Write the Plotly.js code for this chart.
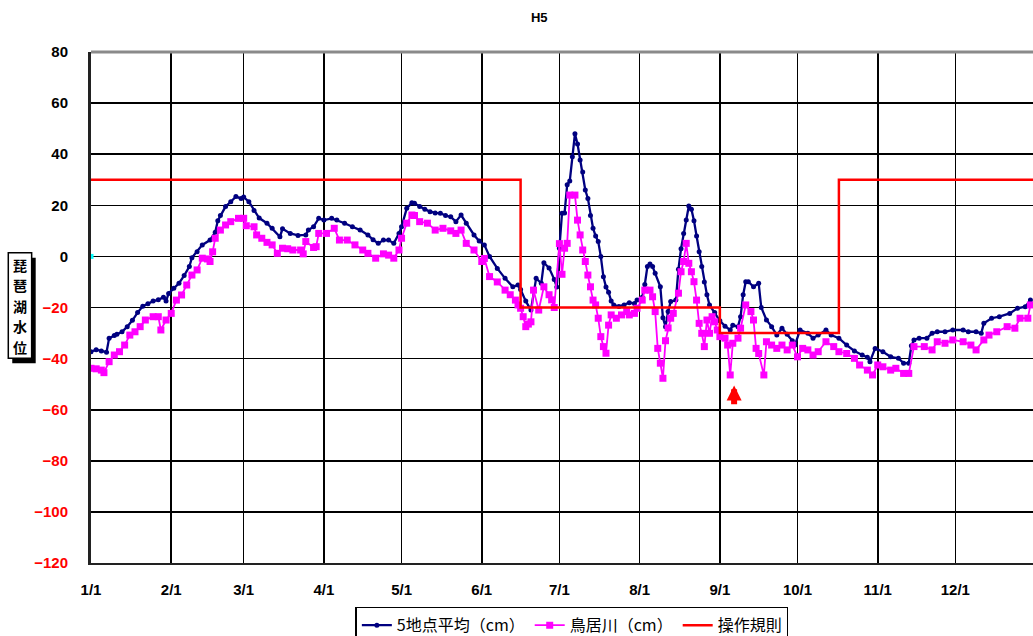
<!DOCTYPE html>
<html>
<head>
<meta charset="utf-8">
<script src="https://cdn.plot.ly/plotly-3.0.1.min.js"></script>
<style>html,body{margin:0;padding:0;background:#fff;}#chart{width:1033px;height:636px;}</style>
</head>
<body>
<div id="chart"></div>
<script>
// ---- Data (day offsets from 1993-01-01, values in cm) ----
const avgDays = [0,2,4,6,7,9,10,12,14,16,18,20,22,24,26,28,29,30,32,34,36,38,39,41,43,46,48,49,50,52,54,56,58,59,61,63,65,68,70,73,74,77,80,83,84,86,88,90,93,95,98,101,104,107,109,111,113,115,117,119,120,122,124,125,127,129,131,133,135,137,139,141,143,145,148,150,152,154,157,160,163,165,166,168,170,172,174,175,177,179,180,181,182,183,184,185,186,187,188,189,190,191,192,193,194,195,196,197,198,199,200,201,202,204,206,208,210,211,213,214,215,216,217,218,220,221,222,223,224,226,227,228,229,230,231,232,233,234,235,236,237,238,239,241,243,245,247,248,250,251,252,253,254,256,258,259,261,263,265,267,269,271,272,274,277,279,281,284,286,289,292,295,298,300,301,303,306,309,312,314,316,317,318,320,323,325,327,330,333,337,339,342,344,345,348,351,355,358,361,363];
const avgValues = [-37.3,-36.5,-37,-37.5,-32,-31,-30.5,-29.5,-27.5,-25,-22,-19.5,-18.5,-17.5,-17,-16,-17.5,-14.5,-12.5,-10.5,-7.5,-4,-0.5,1.8,4.5,6.4,9.5,14,16,19.5,21.4,23.4,22.7,23.2,21.4,18,15,13,11,7.7,10.8,9,8.2,8.4,10.3,11.6,14.9,14.2,14.9,14.2,13,11.6,10.3,8.4,6.5,5.1,6.4,6.4,5.1,9,11.6,18.8,21,20.8,19.5,18.5,17.5,17,16.9,16,15.5,13.6,16.2,13,8.4,6,4.5,0,-4.7,-8.6,-11.9,-11.2,-13,-17.5,-21,-8.6,-10.5,-2.5,-4.5,-9,-12,3.2,16.9,17,28,29.5,39,48,44,37.7,33,26,22.7,16,11,8,5.8,0,-8,-12,-14,-17.5,-19,-19.6,-19,-18.1,-18.4,-17.1,-16,-11,-4,-3,-4,-6.6,-11.9,-24,-27.5,-21.6,-17.7,-17.1,-5,3,9,14.2,19.7,18.5,14,8,1.8,-4,-10,-15,-19,-22,-25.2,-27.3,-28.8,-26.9,-27.5,-23.6,-15,-9.9,-9.9,-11.9,-10.5,-20,-24.9,-27.5,-30.8,-28.1,-30.5,-33,-34.7,-28.8,-30.1,-32,-30.8,-28.8,-30.8,-32,-34.7,-37,-38.6,-39.5,-41.2,-36,-37.3,-39.3,-39.9,-41.8,-41.8,-35,-32.7,-32,-32,-30.1,-29.5,-29.5,-28.8,-28.8,-29.5,-29.5,-30.1,-26.2,-24.2,-23.6,-22.3,-20.3,-19.7,-17.1];

const toriiDays = [0,2,4,5,7,9,11,13,15,17,19,21,24,26,27,29,31,33,35,37,39,41,43,45,46,47,48,50,52,54,57,59,60,63,64,66,68,70,72,74,76,78,81,82,83,86,87,88,91,94,96,99,102,105,107,110,113,115,117,119,120,122,124,125,127,130,133,136,139,141,143,145,148,151,152,154,157,160,162,164,165,166,167,168,169,170,171,173,175,177,178,179,181,182,183,184,185,187,188,189,190,191,192,193,194,195,196,197,198,199,200,201,203,205,207,208,210,211,213,214,216,217,218,219,220,221,222,223,224,225,227,228,229,230,231,232,233,234,235,236,237,238,239,240,241,242,243,245,246,247,248,250,251,253,255,256,257,258,260,261,263,265,267,269,271,273,275,277,279,281,284,287,289,292,295,297,300,302,304,306,309,311,314,316,318,322,325,327,330,333,337,340,342,345,347,350,354,357,359,362,363];
const toriiValues = [-43.8,-44,-44.5,-45.5,-41.2,-38.6,-37.3,-34.7,-30.8,-29.5,-27.5,-24.9,-23.6,-23.6,-28.8,-24.9,-22.3,-17.1,-15.1,-11.2,-7.3,-5.3,-0.7,-1,-2,1.8,7.1,10.3,12.3,13.6,14.9,14.9,12,11.6,8.4,7.1,5.5,4.5,1.2,3.2,3,2.5,2.5,1,5.8,3.5,3.8,9,9,11,6.4,6.4,4.5,2.5,1.2,-0.7,1,0.5,-0.7,2.5,7.1,13,16.2,16,13.6,13,10.3,11,10,9,10.3,5.1,2.5,-2,-0.8,-7.9,-10,-13.2,-15,-17.1,-19,-20.3,-23.6,-27.5,-26.5,-25.6,-13.2,-21,-11.9,-15,-17,-20,5,-7,3.2,5.1,24,24,14.2,8.4,2.5,-2,-7.3,-11.9,-17.1,-19,-24.2,-31.4,-35.3,-37.9,-26.9,-22.9,-24.2,-22.9,-21.6,-22.9,-22.3,-20.3,-17.1,-13.2,-13.2,-15.8,-21.6,-36,-41.8,-47.7,-33,-28,-24.2,-22.3,-14.4,-6,-2,5.1,-2.7,-6,-9.9,-17.1,-26.2,-30.1,-35.3,-24.9,-30.1,-23.6,-25.6,-28.8,-31.4,-32,-34.7,-46.4,-34,-32,-28.1,-19,-21.6,-24.9,-36,-38,-46.4,-33.4,-34.7,-36,-34.7,-36.6,-34.7,-39.3,-36,-36.6,-38.6,-37.3,-33.4,-35.3,-37.3,-38,-39.9,-42.5,-44.5,-46.4,-42.5,-43.2,-44.5,-43.8,-45.8,-45.8,-35.3,-35.3,-36.6,-33.4,-34,-32.7,-33.4,-34.7,-36.6,-32.7,-30.8,-29.5,-27.5,-28.1,-24.2,-24.2,-19];

const ruleDays = [0,166,243,289,364];
const ruleValues = [30,-20,-30,30,30];

const monthTickDates = ['1993-01-01','1993-02-01','1993-03-01','1993-04-01','1993-05-01','1993-06-01','1993-07-01','1993-08-01','1993-09-01','1993-10-01','1993-11-01','1993-12-01'];
const monthTickLabels = ['1/1','2/1','3/1','4/1','5/1','6/1','7/1','8/1','9/1','10/1','11/1','12/1'];
const yTickValues = [80,60,40,20,0,-20,-40,-60,-80,-100,-120];

const seriesNames = ['5地点平均（cm）','鳥居川（cm）','操作規則'];
const chartTitle = 'H5';
const yTitleChars = ['琵','琶','湖','水','位'];

// ---- helpers ----
function dayToDate(d){
  const t = new Date(Date.UTC(1993,0,1+d));
  return t.toISOString().slice(0,10);
}
const yTickText = yTickValues.map(v => v < 0
  ? '<span style="fill:#ff0000">\u2212' + Math.abs(v) + '</span>'
  : String(v));

const traces = [
  {x: avgDays.map(dayToDate), y: avgValues, name: seriesNames[0], type:'scatter', mode:'lines+markers',
   line:{color:'#000080', width:2.3}, marker:{color:'#000080', size:5, symbol:'circle'}},
  {x: toriiDays.map(dayToDate), y: toriiValues, name: seriesNames[1], type:'scatter', mode:'lines+markers',
   line:{color:'#ff00ff', width:1.8}, marker:{color:'#ff00ff', size:7, symbol:'square'}},
  {x: ruleDays.map(dayToDate), y: ruleValues, name: seriesNames[2], type:'scatter', mode:'lines',
   line:{color:'#ff0000', width:2.5, shape:'hv'}},
  {x: [dayToDate(0)], y: [0], type:'scatter', mode:'markers', showlegend:false,
   marker:{color:'#00ffff', size:5, symbol:'square'}}
];

const tickFont = {family:'Liberation Sans, Arial, sans-serif', size:15, color:'#000', weight:'bold'};
const yTitleFont = {family:'Noto Sans CJK JP, sans-serif', size:14, color:'#000', weight:'bold'};

// vertical y-axis title: one character per annotation, stacked inside a boxed frame
const titleTop = 0.5832, titleStep = 0.04;
const yTitleAnnotations = yTitleChars.map((ch, i) => ({
  xref:'paper', yref:'paper', x:-0.0754, y: titleTop - i*titleStep, text: ch, showarrow:false,
  xanchor:'center', yanchor:'middle', font: yTitleFont
}));

const layout = {
  width:1033, height:636,
  margin:{l:91, r:0, t:52, b:73, autoexpand:false},
  paper_bgcolor:'#fff', plot_bgcolor:'#fff',
  title:{text: chartTitle, x:0.522, xref:'container', y:0.972, yref:'container', yanchor:'middle',
         font:{family:'Liberation Sans, Arial, sans-serif', size:13, color:'#000', weight:'bold'}},
  xaxis:{type:'date', range:['1993-01-01','1993-12-31'], tickvals: monthTickDates, ticktext: monthTickLabels,
         showgrid:true, gridcolor:'#000', gridwidth:1.6, showline:true, linecolor:'#222', linewidth:2,
         ticks:'', tickfont: tickFont, ticklabelstandoff:12, zeroline:false, fixedrange:true, automargin:false},
  yaxis:{range:[-120,80], tickvals: yTickValues, ticktext: yTickText,
         showgrid:true, gridcolor:'#000', gridwidth:1.6, showline:true, linecolor:'#222', linewidth:3,
         ticks:'', tickfont: tickFont, ticklabelstandoff:17, zeroline:false, fixedrange:true, automargin:false},
  showlegend:true,
  legend:{orientation:'h', x:0.344, xref:'container', xanchor:'left', y:0.046, yref:'container', yanchor:'top',
          bordercolor:'#000', borderwidth:1.5, bgcolor:'#fff',
          font:{family:'Noto Sans CJK JP, sans-serif', size:16, color:'#000'},
          itemwidth:30, tracegroupgap:0},
  shapes:[
    {type:'line', xref:'paper', yref:'paper', x0:0, x1:1, y0:1, y1:1, line:{color:'#8a8a8a', width:3}},
    {type:'rect', xref:'paper', yref:'paper', x0:-0.0836, x1:-0.0587, y0:0.3908, y1:0.5975,
     fillcolor:'#000', line:{width:0}, layer:'above'},
    {type:'rect', xref:'paper', yref:'paper', x0:-0.0878, x1:-0.0630, y0:0.4006, y1:0.6072,
     fillcolor:'#fff', line:{color:'#000', width:1.5}, layer:'above'}
  ],
  annotations: yTitleAnnotations.concat([
    {x:'1993-09-06 12:00', y:-50.5, xref:'x', yref:'y', ax:'1993-09-06 12:00', ay:-58.5, axref:'x', ayref:'y',
     text:'', showarrow:true, arrowhead:2, arrowsize:0.5, arrowwidth:6, arrowcolor:'#ff0000'}
  ])
};

Plotly.newPlot('chart', traces, layout, {displayModeBar:false, staticPlot:true});
</script>
</body>
</html>
